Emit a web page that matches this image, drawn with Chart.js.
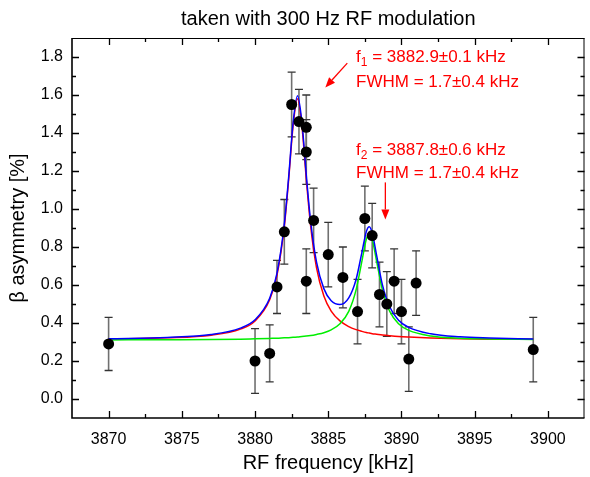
<!DOCTYPE html>
<html><head><meta charset="utf-8">
<script src="https://cdn.jsdelivr.net/npm/chart.js@4.4.1/dist/chart.umd.min.js"></script>
<style>html,body{margin:0;padding:0;background:#fff;}canvas{display:block;}</style>
</head><body>
<canvas id="c" width="590" height="477"></canvas>
<script>
// ---- data ----
const freq    = [3870, 3880, 3881, 3881.5, 3882, 3882.5, 3883, 3883.5, 3883.5, 3883.5, 3884, 3885, 3886, 3887, 3887.5, 3888, 3888.5, 3889, 3889.5, 3890, 3890.5, 3891, 3899];
const asym    = [0.29, 0.20, 0.24, 0.59, 0.88, 1.55, 1.46, 1.43, 1.30, 0.62, 0.94, 0.76, 0.64, 0.46, 0.95, 0.86, 0.55, 0.50, 0.62, 0.46, 0.21, 0.61, 0.26];
const asymErr = [0.14, 0.17, 0.15, 0.14, 0.17, 0.17, 0.17, 0.17, 0.17, 0.17, 0.17, 0.17, 0.16, 0.17, 0.17, 0.17, 0.17, 0.17, 0.17, 0.17, 0.17, 0.17, 0.17];

// fit curves
const fitX     = [3870, 3874, 3877, 3879, 3880, 3881, 3881.5, 3882, 3882.3, 3882.6, 3882.9, 3883.2, 3883.5, 3883.8, 3884.2, 3884.7, 3885.2, 3885.8, 3886.4, 3886.9, 3887.3, 3887.6, 3887.8, 3888.0, 3888.3, 3888.7, 3889.2, 3889.8, 3890.5, 3892, 3894, 3896, 3899];
const fitPeak1 = [0.316, 0.322, 0.336, 0.368, 0.411, 0.522, 0.652, 0.909, 1.158, 1.439, 1.580, 1.439, 1.158, 0.909, 0.690, 0.542, 0.463, 0.411, 0.381, 0.365, 0.356, 0.350, 0.347, 0.344, 0.341, 0.337, 0.333, 0.329, 0.326, 0.321, 0.317, 0.315, 0.314];
const fitPeak2 = [0.311, 0.312, 0.313, 0.315, 0.317, 0.319, 0.320, 0.322, 0.323, 0.325, 0.326, 0.329, 0.331, 0.334, 0.340, 0.349, 0.364, 0.396, 0.461, 0.574, 0.726, 0.841, 0.870, 0.841, 0.726, 0.574, 0.461, 0.396, 0.361, 0.332, 0.320, 0.316, 0.313];
const fitSum   = [0.317, 0.324, 0.339, 0.373, 0.417, 0.530, 0.662, 0.921, 1.171, 1.454, 1.596, 1.458, 1.179, 0.933, 0.720, 0.581, 0.517, 0.497, 0.532, 0.629, 0.772, 0.881, 0.907, 0.875, 0.757, 0.601, 0.484, 0.415, 0.377, 0.343, 0.327, 0.321, 0.316];

// tick labels
const xTicks = [3870, 3875, 3880, 3885, 3890, 3895, 3900];
const yTicks = [0.0, 0.2, 0.4, 0.6, 0.8, 1.0, 1.2, 1.4, 1.6, 1.8];

const titleText  = "taken with 300 Hz RF modulation";
const xTitleText = "RF frequency [kHz]";
const yTitleText = "\u03B2 asymmetry [%]";
const annoSub    = ["1", "", "2", ""];
const annoHead   = ["f", "FWHM = 1.7\u00B10.4 kHz", "f", "FWHM = 1.7\u00B10.4 kHz"];
const annoTail   = [" = 3882.9\u00B10.1 kHz", "", " = 3887.8\u00B10.6 kHz", ""];

// ---- layout (data coordinates for annotation placement) ----
const annoPos  = [[3886.9, 1.774], [3886.9, 1.642], [3886.9, 1.284], [3886.9, 1.163]];
const arrows   = [[[3886.3, 1.768], [3884.8, 1.640]], [[3888.9, 1.140], [3888.9, 0.945]]];

const FONT = '"Liberation Sans", Arial, Helvetica, sans-serif';
const RED = '#ff0000';

const pts = (xs, ys) => xs.map((v, i) => ({x: v, y: ys[i]}));

const decor = {
  id: 'decor',
  beforeDatasetsDraw(chart) {
    const {ctx, scales: {x, y}} = chart;
    ctx.save();
    freq.forEach((f, i) => {
      const px = x.getPixelForValue(f);
      const t = y.getPixelForValue(asym[i] + asymErr[i]);
      const b = y.getPixelForValue(asym[i] - asymErr[i]);
      ctx.strokeStyle = '#707070'; ctx.lineWidth = 1.6;
      ctx.beginPath(); ctx.moveTo(px, t); ctx.lineTo(px, b); ctx.stroke();
      ctx.strokeStyle = '#333'; ctx.lineWidth = 1.3;
      ctx.beginPath();
      ctx.moveTo(px - 4, t); ctx.lineTo(px + 4, t);
      ctx.moveTo(px - 4, b); ctx.lineTo(px + 4, b);
      ctx.stroke();
    });
    ctx.restore();
  },
  afterDraw(chart) {
    const {ctx, chartArea: a, scales: {x, y}} = chart;
    ctx.save();
    // frame
    ctx.strokeStyle = '#000';
    ctx.lineWidth = 1;
    ctx.beginPath();
    ctx.moveTo(a.left, a.top + 0.5); ctx.lineTo(a.right, a.top + 0.5);
    ctx.moveTo(a.right - 0.5, a.top); ctx.lineTo(a.right - 0.5, a.bottom);
    ctx.stroke();
    ctx.lineWidth = 1.6;
    ctx.beginPath();
    ctx.moveTo(a.left, a.top); ctx.lineTo(a.left, a.bottom); ctx.lineTo(a.right, a.bottom);
    ctx.stroke();
    // inward ticks
    ctx.lineWidth = 1.3;
    ctx.beginPath();
    xTicks.forEach(v => {
      const p = Math.round(x.getPixelForValue(v)) + 0.5;
      ctx.moveTo(p, a.bottom); ctx.lineTo(p, a.bottom - 7);
      ctx.moveTo(p, a.top); ctx.lineTo(p, a.top + 7);
    });
    for (let i = 0; i <= xTicks.length; i++) {
      const v = (xTicks[0] - 2.5) + i * 5;
      if (v <= x.min || v >= x.max) continue;
      const p = Math.round(x.getPixelForValue(v)) + 0.5;
      ctx.moveTo(p, a.bottom); ctx.lineTo(p, a.bottom - 4);
      ctx.moveTo(p, a.top); ctx.lineTo(p, a.top + 4);
    }
    yTicks.forEach(v => {
      const p = Math.round(y.getPixelForValue(v)) + 0.5;
      ctx.moveTo(a.left, p); ctx.lineTo(a.left + 7, p);
      ctx.moveTo(a.right, p); ctx.lineTo(a.right - 7, p);
    });
    for (let i = 0; i <= yTicks.length; i++) {
      const v = (yTicks[0] - 0.1) + i * 0.2;
      if (v <= y.min + 1e-6 || v >= y.max - 1e-6) continue;
      const p = Math.round(y.getPixelForValue(v)) + 0.5;
      ctx.moveTo(a.left, p); ctx.lineTo(a.left + 4, p);
      ctx.moveTo(a.right, p); ctx.lineTo(a.right - 4, p);
    }
    ctx.stroke();
    // annotations
    ctx.fillStyle = RED;
    ctx.textBaseline = 'alphabetic';
    ctx.textAlign = 'left';
    annoHead.forEach((h, i) => {
      let px = x.getPixelForValue(annoPos[i][0]);
      const py = y.getPixelForValue(annoPos[i][1]);
      ctx.font = '17px ' + FONT;
      ctx.fillText(h, px, py);
      px += ctx.measureText(h).width;
      if (annoSub[i]) {
        ctx.font = '12px ' + FONT;
        ctx.fillText(annoSub[i], px, py + 4);
        px += ctx.measureText(annoSub[i]).width;
      }
      if (annoTail[i]) {
        ctx.font = '17px ' + FONT;
        ctx.fillText(annoTail[i], px, py);
      }
    });
    // arrows
    ctx.strokeStyle = RED; ctx.lineWidth = 1.3;
    arrows.forEach(([s, e]) => {
      const x0 = x.getPixelForValue(s[0]), y0 = y.getPixelForValue(s[1]);
      const x1 = x.getPixelForValue(e[0]), y1 = y.getPixelForValue(e[1]);
      const ang = Math.atan2(y1 - y0, x1 - x0);
      const L = 10, W = 4;
      const bx = x1 - L * Math.cos(ang), by = y1 - L * Math.sin(ang);
      ctx.beginPath(); ctx.moveTo(x0, y0); ctx.lineTo(bx, by); ctx.stroke();
      ctx.beginPath();
      ctx.moveTo(x1, y1);
      ctx.lineTo(bx + W * Math.sin(ang), by - W * Math.cos(ang));
      ctx.lineTo(bx - W * Math.sin(ang), by + W * Math.cos(ang));
      ctx.closePath(); ctx.fill();
    });
    ctx.restore();
  }
};

const lineDs = (label, ys, color) => ({
  label, data: pts(fitX, ys), showLine: true, borderColor: color, backgroundColor: color,
  borderWidth: 1.5, pointRadius: 0, cubicInterpolationMode: 'monotone', fill: false
});

new Chart(document.getElementById('c'), {
  type: 'scatter',
  data: {
    datasets: [
      { label: 'data', data: pts(freq, asym), pointRadius: 5.5, pointHoverRadius: 5.5,
        backgroundColor: '#000', borderColor: '#000', borderWidth: 0, showLine: false },
      lineDs('sum', fitSum, '#0000ff'),
      lineDs('peak 2', fitPeak2, '#00ee00'),
      lineDs('peak 1', fitPeak1, '#ff0000')
    ]
  },
  options: {
    responsive: false, animation: false, events: [],
    layout: { padding: { left: 0, right: 1, top: 0, bottom: 0 } },
    plugins: {
      legend: { display: false }, tooltip: { enabled: false },
      title: { display: true, text: titleText, fullSize: false, color: '#000',
               font: { family: FONT, size: 20, weight: 'normal' }, padding: { top: 7, bottom: 7 } }
    },
    scales: {
      x: {
        type: 'linear', min: 3867.5, max: 3902.5,
        afterBuildTicks: s => { s.ticks = xTicks.map(v => ({value: v})); },
        afterFit: s => { s.height = 59; s.paddingLeft = 0; s.paddingRight = 0; },
        grid: { display: false, drawTicks: false }, border: { display: false },
        ticks: { padding: 12, color: '#000', maxRotation: 0, autoSkip: false,
                 font: { family: FONT, size: 16 }, callback: v => String(v) },
        title: { display: true, text: xTitleText, color: '#000',
                 font: { family: FONT, size: 20 }, padding: { top: 0, bottom: 2 } }
      },
      y: {
        type: 'linear', min: -0.1, max: 1.9,
        afterBuildTicks: s => { s.ticks = yTicks.map(v => ({value: v})); },
        afterFit: s => { s.width = 72; s.paddingTop = 0; s.paddingBottom = 0; },
        grid: { display: false, drawTicks: false }, border: { display: false },
        ticks: { padding: 9, color: '#000', autoSkip: false,
                 font: { family: FONT, size: 16 }, callback: v => Number(v).toFixed(1) },
        title: { display: true, text: yTitleText, color: '#000',
                 font: { family: FONT, size: 20 }, padding: { top: 6, bottom: 0 } }
      }
    }
  },
  plugins: [decor]
});
</script>
</body></html>
